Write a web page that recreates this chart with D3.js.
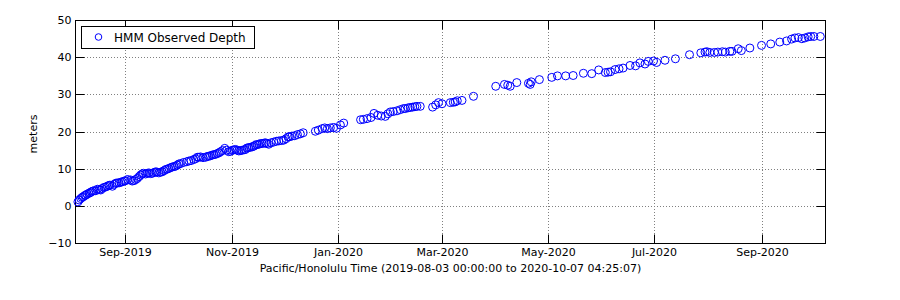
<!DOCTYPE html>
<html><head><meta charset="utf-8">
<script src="https://cdn.jsdelivr.net/npm/d3@7"></script>
<style>body{margin:0;background:#fff;} svg{display:block;font-family:"DejaVu Sans",sans-serif;}</style>
</head><body><svg id="c" width="900" height="300"></svg>
<script>
const seriesName = "HMM Observed Depth";
const startTime = "2019-08-03T00:00:00";
const endTime = "2020-10-07T04:25:07";
// observation times, in days after startTime
const dayOffsets = [
1.4,2.1,3.0,3.8,4.5,5.3,5.9,6.7,7.8,8.4,9.1,9.9,10.6,11.6,12.6,13.6,14.5,15.3,16.4,17.3,
18.3,19.1,19.8,21.2,22.2,23.1,23.9,25.0,26.0,26.9,28.0,28.8,30.1,31.7,32.6,33.6,34.6,35.5,36.6,37.4,
38.3,39.0,40.3,41.2,42.2,43.2,44.2,45.2,46.1,46.9,47.9,48.9,49.9,50.9,51.8,52.7,53.7,54.7,55.6,56.7,
57.5,58.5,59.4,
60.4,62.1,63.9,65.2,66.4,68.0,69.0,70.0,70.9,71.9,73.3,74.8,75.7,76.7,77.6,78.6,79.6,80.5,81.5,82.5,
83.4,84.5,85.8,86.8,88.1,89.1,90.1,91.1,92.0,92.9,93.9,94.9,95.8,96.9,97.7,98.6,99.6,100.6,101.6,102.6,
103.5,104.3,105.4,106.3,107.3,108.4,109.2,110.1,111.1,112.4,114.0,115.5,116.9,118.4,119.7,121.0,122.3,
123.0,124.4,126.0,127.6,129.3,130.9,137.9,139.6,141.8,143.3,144.8,146.5,148.4,150.0,152.3,154.2,
163.9,165.5,167.6,169.9,171.6,173.7,175.8,178.1,179.6,181.0,182.7,184.8,
186.7,188.5,189.6,191.2,192.5,193.8,195.1,196.3,198.2,205.3,207.1,208.7,210.7,215.5,217.2,218.3,219.5,222.2,228.8,
241.6,246.6,248.5,249.9,253.7,260.4,261.4,262.0,266.7,273.8,277.1,281.8,286.1,292.0,296.8,300.8,304.6,306.2,307.6,
310.2,312.5,314.8,318.8,322.0,324.5,327.4,329.3,332.3,334.1,338.9,344.9,353.0,359.5,361.9,363.0,364.7,367.3,369.3,
371.9,373.6,376.2,377.4,381.0,382.8,387.7,394.4,399.7,404.9,408.8,411.7,413.6,415.6,417.6,419.3,421.2,422.7,424.5,428.2
];
const depthMeters = [
1.2,1.7,2.1,2.4,2.6,2.9,3.0,3.3,3.5,3.7,3.9,4.1,4.2,4.2,4.6,4.5,4.4,4.8,5.1,5.2,
5.4,5.6,5.7,5.4,5.9,6.2,6.3,6.3,6.5,6.6,6.8,6.9,7.2,7.1,6.8,6.9,7.2,7.5,8.0,8.4,
8.7,8.9,8.7,8.9,9.0,8.8,8.9,9.1,9.3,9.2,9.0,9.2,9.3,9.6,9.9,10.0,10.2,10.4,10.6,10.7,
10.8,11.1,11.4,
11.5,11.8,12.0,12.2,12.3,12.6,12.8,13.2,13.2,13.3,13.1,13.2,13.4,13.5,13.6,13.8,13.9,14.0,14.2,14.4,
14.7,15.0,15.6,15.1,14.7,14.8,15.1,15.2,15.3,15.1,14.9,15.0,15.1,15.2,15.3,15.7,15.8,15.9,16.0,16.2,
16.5,16.6,16.7,16.9,16.9,17.0,17.1,16.9,16.7,17.1,17.3,17.5,17.6,17.7,17.8,18.2,18.7,
18.7,18.9,19.0,19.3,19.5,19.8,20.2,20.5,20.9,21.1,20.9,21.1,21.2,21.0,21.9,22.4,
23.3,23.4,23.6,23.9,25.0,24.5,24.3,24.2,24.9,25.4,25.5,25.7,
26.0,26.3,26.3,26.5,26.6,26.7,26.8,26.9,26.9,26.7,27.3,27.9,27.6,27.9,28.0,28.1,28.4,28.5,29.6,
32.3,32.8,32.6,32.3,33.3,33.1,32.8,33.5,34.1,34.7,35.1,35.1,35.2,35.8,35.7,36.7,36.0,36.1,36.2,
36.8,37.0,37.2,37.9,37.8,38.6,38.3,39.0,39.1,38.7,39.3,39.7,40.8,41.3,41.5,41.6,41.4,41.4,41.5,
41.6,41.5,41.7,41.7,42.4,41.9,42.6,43.3,43.7,44.2,44.5,45.0,45.3,45.4,45.1,45.3,45.6,45.7,45.7,45.7
];
const xTickDates = ["2019-09-01","2019-11-01","2020-01-01","2020-03-01","2020-05-01","2020-07-01","2020-09-01"];
const yTickValues = [-10, 0, 10, 20, 30, 40, 50];
const xLabel = "Pacific/Honolulu Time (2019-08-03 00:00:00 to 2020-10-07 04:25:07)";
const yLabel = "meters";

const parseT = d3.utcParse("%Y-%m-%dT%H:%M:%S");
const parseD = d3.utcParse("%Y-%m-%d");
const t0 = parseT(startTime), t1 = parseT(endTime);
const data = dayOffsets.map((d, i) => ({t: new Date(t0.getTime() + d * 86400000), v: depthMeters[i]}));

const L = 75, R = 826, T = 20, B = 244;
const x = d3.scaleUtc().domain([t0, t1]).range([L + 0.5, R - 0.5]);
const y = d3.scaleLinear().domain([-10, 50]).range([B - 0.5, T + 0.5]);
const px = v => Math.round(x(v) - 0.5) + 0.5;
const py = v => Math.round(y(v) - 0.5) + 0.5;

const svg = d3.select("#c");
svg.append("rect").attr("width", 900).attr("height", 300).attr("fill", "#fff");

const tickDates = xTickDates.map(parseD);
const fmt = d3.utcFormat("%b-%Y");
const grid = svg.append("g").attr("stroke", "#808080").attr("stroke-dasharray", "1,2").attr("stroke-width", 1);
grid.selectAll("line.gx").data(tickDates).join("line").attr("class", "gx")
  .attr("x1", d => px(d)).attr("x2", d => px(d)).attr("y1", T).attr("y2", B);
grid.selectAll("line.gy").data(yTickValues.filter(v => v > -10 && v < 50)).join("line").attr("class", "gy")
  .attr("x1", L).attr("x2", R).attr("y1", d => py(d)).attr("y2", d => py(d));

// axes via d3.axis (inward ticks)
const tl = 9;
const axB = svg.append("g").attr("transform", `translate(0,${B - 0.5})`)
  .call(d3.axisBottom(x).tickValues(tickDates).tickFormat(fmt).tickSizeInner(-tl).tickSizeOuter(0));
const axT = svg.append("g").attr("transform", `translate(0,${T + 0.5})`)
  .call(d3.axisTop(x).tickValues(tickDates).tickFormat("").tickSizeInner(-tl).tickSizeOuter(0));
const axL = svg.append("g").attr("transform", `translate(${L + 0.5},0)`)
  .call(d3.axisLeft(y).tickValues(yTickValues).tickSizeInner(-tl).tickSizeOuter(0));
const axR = svg.append("g").attr("transform", `translate(${R - 0.5},0)`)
  .call(d3.axisRight(y).tickValues(yTickValues).tickFormat("").tickSizeInner(-tl).tickSizeOuter(0));
[axB, axT, axL, axR].forEach(a => {
  a.select(".domain").remove();
  a.selectAll(".tick line").attr("stroke", "#000");
  a.selectAll("text").attr("font-family", "DejaVu Sans").attr("font-size", 11).attr("fill", "#000");
});
axB.selectAll(".tick").attr("transform", d => `translate(${px(d)},0)`);
axT.selectAll(".tick").attr("transform", d => `translate(${px(d)},0)`);
axL.selectAll(".tick").attr("transform", d => `translate(0,${py(d)})`);
axR.selectAll(".tick").attr("transform", d => `translate(0,${py(d)})`);
axB.selectAll("text").attr("y", 5).attr("dy", "0.71em");
axL.selectAll("text").attr("x", -4);

// frame
svg.append("rect").attr("x", L + 0.5).attr("y", T + 0.5).attr("width", R - L - 1).attr("height", B - T - 1)
  .attr("fill", "none").attr("stroke", "#000");

// points
svg.append("g").selectAll("circle").data(data).join("circle")
  .attr("cx", d => x(d.t)).attr("cy", d => y(d.v)).attr("r", 4)
  .attr("fill", "none").attr("stroke", "#0000ff").attr("stroke-width", 1);

// labels
svg.append("text").attr("x", (L + R) / 2).attr("y", 272).attr("text-anchor", "middle")
  .attr("font-size", 11).text(xLabel);
svg.append("text").attr("transform", `translate(37,134) rotate(-90)`).attr("text-anchor", "middle")
  .attr("font-size", 11).text(yLabel);

// legend
const lg = svg.append("g");
lg.append("rect").attr("x", 81.5).attr("y", 26.5).attr("width", 173).attr("height", 22)
  .attr("fill", "#fff").attr("stroke", "#000");
lg.append("circle").attr("cx", 98.5).attr("cy", 37).attr("r", 3.3).attr("fill", "none").attr("stroke", "#0000ff");
lg.append("text").attr("x", 114).attr("y", 41.5).attr("font-size", 12).text(seriesName);
</script></body></html>
